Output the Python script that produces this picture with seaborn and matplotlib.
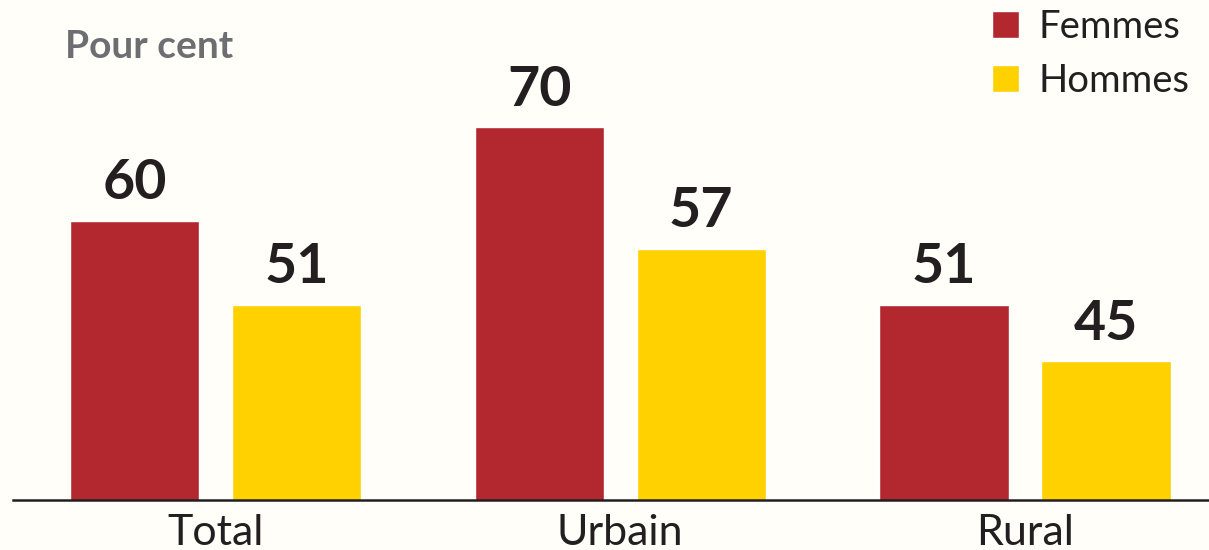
import matplotlib
matplotlib.use("Agg")
import matplotlib.pyplot as plt
import seaborn as sns
import pandas as pd

categories = ["Total", "Urbain", "Rural"]
femmes = [60, 70, 51]
hommes = [51, 57, 45]
series = ["Femmes", "Hommes"]
colors = ["#B2282E", "#FFD100"]

df = pd.DataFrame({
    "cat": categories * 2,
    "val": femmes + hommes,
    "sexe": [series[0]] * 3 + [series[1]] * 3,
})

sns.set_theme(style="white")
plt.rcParams["font.family"] = ["Lato", "DejaVu Sans"]
bg = "#FFFEF9"
fig = plt.figure(figsize=(12.09, 5.5), dpi=100, facecolor=bg)
ax = fig.add_axes([13 / 1209, 50 / 550, 1 - 13 / 1209, 500 / 550])
ax.set_facecolor(bg)

sns.barplot(data=df, x="cat", y="val", hue="sexe", order=categories,
            hue_order=series, palette=colors, width=0.8, gap=0.2,
            saturation=1, ax=ax, legend=True)

for cont in ax.containers:
    ax.bar_label(cont, fmt="%d", padding=9, fontsize=40, fontweight="bold",
                 color="#231F20")

ax.set_ylim(30.15, 83.6)
ax.set_xlim(-0.5, 2.454)
ax.set_xlabel("")
ax.set_ylabel("")
ax.set_yticks([])
for s in ["top", "left", "right"]:
    ax.spines[s].set_visible(False)
ax.spines["bottom"].set_color("#231F20")
ax.spines["bottom"].set_linewidth(1.8)
ax.tick_params(axis="x", length=0, pad=10, labelsize=31, labelcolor="#231F20")

fig.text(65 / 1209, 1 - 58 / 550, "Pour cent", fontsize=28, fontweight="bold",
         color="#6D6E71", ha="left", va="baseline")

handles, labels = ax.get_legend_handles_labels()
leg = ax.legend(handles, labels, loc="upper right",
                bbox_to_anchor=(1189 / 1209, 1 - 9 / 550),
                bbox_transform=fig.transFigure, frameon=False, fontsize=27.5,
                handlelength=0.7, handleheight=0.7, handletextpad=0.5,
                labelspacing=0.47, borderaxespad=0, borderpad=0)
for t in leg.get_texts():
    t.set_color("#231F20")

fig.savefig("out.png", dpi=100, facecolor=bg)
